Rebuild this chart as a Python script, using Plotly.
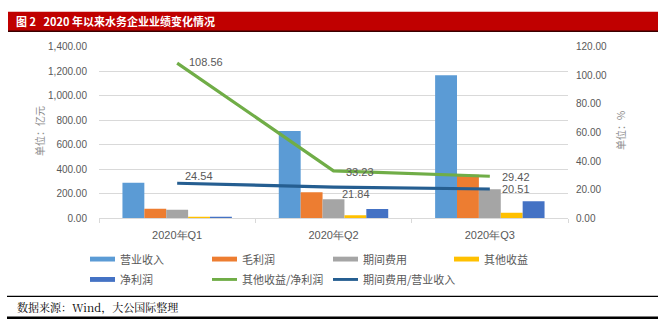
import plotly.graph_objects as go

# ---- data ----
quarters = ["2020年Q1", "2020年Q2", "2020年Q3"]
bar_names = ["营业收入", "毛利润", "期间费用", "其他收益", "净利润"]
revenue = [290, 712, 1168]
gross_profit = [79, 213, 356]
period_expense = [71, 156, 237]
other_income = [13, 26, 45]
net_profit = [10, 77, 140]
line_names = ["其他收益/净利润", "期间费用/营业收入"]
other_income_ratio = [108.56, 33.23, 29.42]
expense_ratio = [24.54, 21.84, 20.51]

bar_values = [revenue, gross_profit, period_expense, other_income, net_profit]
bar_colors = ["#5B9BD5", "#ED7D31", "#A5A5A5", "#FFC000", "#4472C4"]
line_values = [other_income_ratio, expense_ratio]
line_colors = ["#70AD47", "#255E91"]

W, H = 665, 331


def px(x):
    return x / W


def py(y):
    return 1 - y / H


TXT = "#595959"
CJK = "Noto Sans CJK SC"
NUM = "Liberation Sans"

fig = go.Figure()
for name, vals, col in zip(bar_names, bar_values, bar_colors):
    fig.add_trace(go.Bar(x=quarters, y=vals, name=name, marker_color=col,
                         marker_line_width=0, showlegend=False))
for name, vals, col in zip(line_names, line_values, line_colors):
    fig.add_trace(go.Scatter(x=quarters, y=vals, name=name, yaxis="y2",
                             mode="lines", line=dict(color=col, width=3.2),
                             showlegend=False))

annotations = []
# data labels for the ratio lines: (series, index, x offset, y offset)
label_spec = [
    (0, 0, 10, 1), (0, 1, 10, -1), (0, 2, 10, -1),
    (1, 0, 6, 7), (1, 1, 6, -7), (1, 2, 10, 0),
]
for s, i, dx, dy in label_spec:
    v = line_values[s][i]
    annotations.append(dict(x=quarters[i], y=v, xref="x", yref="y2",
                            text=f"{v:.2f}", showarrow=False, xanchor="left",
                            yanchor="middle", xshift=dx, yshift=dy,
                            font=dict(family=NUM, size=11, color=TXT)))

# title bar text
annotations.append(dict(x=px(14), y=py(17), xref="paper", yref="paper",
                        text="<b>图 2\u00a0\u00a0 2020 年以来水务企业业绩变化情况</b>",
                        showarrow=False, xanchor="left", yanchor="middle",
                        font=dict(family=CJK, size=11, color="white")))
# axis titles
annotations.append(dict(x=px(39), y=py(130), xref="paper", yref="paper",
                        text="单位：亿元", textangle=-90, showarrow=False,
                        xanchor="center", yanchor="middle",
                        font=dict(family=CJK, size=10, color="#8C8C8C")))
annotations.append(dict(x=px(620), y=py(130), xref="paper", yref="paper",
                        text="单位：%", textangle=-90, showarrow=False,
                        xanchor="center", yanchor="middle",
                        font=dict(family=CJK, size=10, color="#8C8C8C")))
# source note
annotations.append(dict(x=px(15), y=py(311), xref="paper", yref="paper",
                        text="数据来源：Wind，大公国际整理", showarrow=False,
                        xanchor="left", yanchor="middle",
                        font=dict(family="Noto Serif CJK SC, " + CJK, size=11, color="#000000")))

shapes = [
    # title bar
    dict(type="rect", xref="paper", yref="paper", x0=px(8), x1=px(658),
         y0=py(27), y1=py(7), fillcolor="#C00000", line=dict(width=0)),
    dict(type="line", xref="paper", yref="paper", x0=px(8), x1=px(658),
         y0=py(27), y1=py(27), line=dict(color="#3A0000", width=1.5)),
    # source rules
    dict(type="line", xref="paper", yref="paper", x0=px(7), x1=px(658),
         y0=py(300.5), y1=py(300.5), line=dict(color="#000000", width=1.2)),
    dict(type="line", xref="paper", yref="paper", x0=px(7), x1=px(658),
         y0=py(322.5), y1=py(322.5), line=dict(color="#000000", width=2.5)),
]

# hand-laid legend (4 columns, 2 rows)
legend_items = [(n, c, "bar") for n, c in zip(bar_names, bar_colors)] + \
               [(n, c, "line") for n, c in zip(line_names, line_colors)]
col_x = [90, 212, 333, 454]
row_y = [262, 283]
for k, (name, col, kind) in enumerate(legend_items):
    r, c = divmod(k, 4)
    x0 = col_x[c]
    y = row_y[r]
    h = 2.5 if kind == "bar" else 1.5
    shapes.append(dict(type="rect", xref="paper", yref="paper",
                       x0=px(x0), x1=px(x0 + 25), y0=py(y + h), y1=py(y - h),
                       fillcolor=col, line=dict(width=0)))
    annotations.append(dict(x=px(x0 + 28), y=py(y), xref="paper", yref="paper",
                            text=name, showarrow=False, xanchor="left",
                            yanchor="middle",
                            font=dict(family=CJK, size=11, color=TXT)))

fig.update_layout(
    width=W, height=H, margin=dict(l=0, r=0, t=0, b=0),
    paper_bgcolor="white", plot_bgcolor="white",
    barmode="group", bargap=0.30, bargroupgap=0,
    showlegend=False,
    xaxis=dict(domain=[px(99), px(568)], tickfont=dict(family=NUM, size=11, color=TXT),
               showline=True, linecolor="#D9D9D9", linewidth=1,
               ticks="outside", tickson="boundaries", ticklen=4, tickcolor="#D9D9D9",
               ticklabelstandoff=6, showgrid=False),
    yaxis=dict(domain=[py(220), py(43)], range=[0, 1400], dtick=200,
               tickformat=",.2f", showgrid=True, gridcolor="#D9D9D9",
               zeroline=False, ticklabelstandoff=11,
               tickfont=dict(family=NUM, size=10, color=TXT)),
    yaxis2=dict(overlaying="y", side="right", anchor="x", range=[0, 120], dtick=20,
                tickformat=".2f", showgrid=False, zeroline=False,
                ticklabelstandoff=7,
                tickfont=dict(family=NUM, size=10, color=TXT)),
    annotations=annotations, shapes=shapes,
)

fig.write_html("out.html")
